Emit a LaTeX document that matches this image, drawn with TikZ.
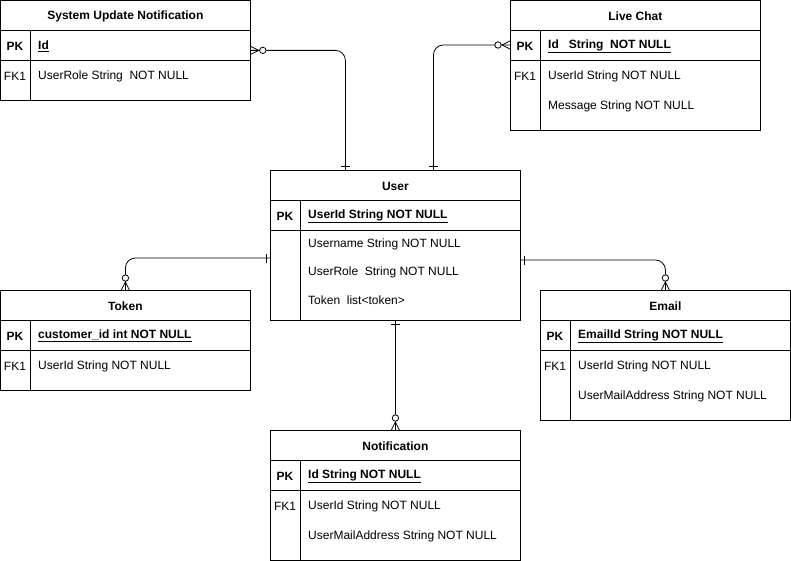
\documentclass[tikz,border=0pt]{standalone}
\usepackage{fontspec}
\setmainfont{Liberation Sans}
\usetikzlibrary{decorations.markings}

\newcommand{\erfont}{\fontsize{12}{14}\selectfont}

\tikzset{
  erbox/.style={draw, line width=0.8pt, anchor=north west, minimum width=250pt, inner sep=0pt},
  erline/.style={line width=0.8pt},
  ertitle/.style={font=\erfont\bfseries, anchor=center},
  erkey/.style={anchor=center, inner sep=0pt},
  erfield/.style={anchor=west, inner sep=0pt},
  erbold/.style={font=\erfont\bfseries},
  rel/.style={line width=0.8pt, rounded corners=10pt},
  zeromany/.style={postaction={decorate, decoration={markings, mark=at position 0 with {
      \draw[line width=0.8pt] (8pt,0pt) -- (0pt,4pt) (8pt,0pt) -- (0pt,-4pt);
      \draw[line width=0.8pt, fill=white] (12pt,0pt) circle (3.2pt);}}}},
  onebar/.style={postaction={decorate, decoration={markings, mark=at position 1 with {
      \draw[line width=0.8pt] (-4pt,-4.5pt) -- (-4pt,4.5pt);}}}}
}

% table frame: name, x, y, height, title
\newcommand{\erframe}[5]{%
  \node[erbox, minimum height=#4pt] (#1) at (#2,#3) {};
  \node[ertitle] (#1-t) at ([yshift=-16pt]#1.north) {#5};
  \draw[erline] ([yshift=-30pt]#1.north west) -- ([yshift=-30pt]#1.north east)
    ([yshift=-60pt]#1.north west) -- ([yshift=-60pt]#1.north east)
    ([shift={(30pt,-30pt)}]#1.north west) -- ([xshift=30pt]#1.south west);
}

\begin{document}
\begin{tikzpicture}[x=1pt, y=-1pt, font=\erfont]
  \useasboundingbox (0,0) rectangle (791,561);

  % tables
  \erframe{sun}{0}{0}{100}{System Update Notification}
  \erframe{chat}{510}{0}{130}{Live Chat}
  \erframe{user}{270}{170}{150}{User}
  \erframe{token}{0}{290}{100}{Token}
  \erframe{email}{540}{290}{130}{Email}
  \erframe{notif}{270}{430}{130}{Notification}

  % System Update Notification
  \node[erkey, erbold] (sun-pk) at ([shift={(15pt,-46pt)}]sun.north west) {PK};
  \node[erfield, erbold] (sun-id) at ([shift={(38pt,-46pt)}]sun.north west) {\underline{Id}};
  \node[erkey] (sun-fk) at ([shift={(15pt,-76pt)}]sun.north west) {FK1};
  \node[erfield] (sun-role) at ([shift={(38pt,-76pt)}]sun.north west) {UserRole String\ \ NOT NULL};

  % Live Chat
  \node[erkey, erbold] (chat-pk) at ([shift={(15pt,-46pt)}]chat.north west) {PK};
  \node[erfield, erbold] (chat-id) at ([shift={(38pt,-46pt)}]chat.north west) {\underline{Id\ \ \ String\ \ NOT NULL}};
  \node[erkey] (chat-fk) at ([shift={(15pt,-76pt)}]chat.north west) {FK1};
  \node[erfield] (chat-user) at ([shift={(38pt,-76pt)}]chat.north west) {UserId String NOT NULL};
  \node[erfield] (chat-msg) at ([shift={(38pt,-106pt)}]chat.north west) {Message String NOT NULL};

  % User
  \node[erkey, erbold] (user-pk) at ([shift={(15pt,-46pt)}]user.north west) {PK};
  \node[erfield, erbold] (user-id) at ([shift={(38pt,-46pt)}]user.north west) {\underline{UserId String NOT NULL}};
  \node[erfield] (user-name) at ([shift={(38pt,-74pt)}]user.north west) {Username String NOT NULL};
  \node[erfield] (user-role) at ([shift={(38pt,-102pt)}]user.north west) {UserRole\ \ String NOT NULL};
  \node[erfield] (user-token) at ([shift={(38pt,-130pt)}]user.north west) {Token\ \ list<token>};

  % Token
  \node[erkey, erbold] (token-pk) at ([shift={(15pt,-46pt)}]token.north west) {PK};
  \node[erfield, erbold] (token-id) at ([shift={(38pt,-46pt)}]token.north west) {\underline{customer\_id int NOT NULL}};
  \node[erkey] (token-fk) at ([shift={(15pt,-76pt)}]token.north west) {FK1};
  \node[erfield] (token-user) at ([shift={(38pt,-76pt)}]token.north west) {UserId String NOT NULL};

  % Email
  \node[erkey, erbold] (email-pk) at ([shift={(15pt,-46pt)}]email.north west) {PK};
  \node[erfield, erbold] (email-id) at ([shift={(38pt,-46pt)}]email.north west) {\underline{EmailId String NOT NULL}};
  \node[erkey] (email-fk) at ([shift={(15pt,-76pt)}]email.north west) {FK1};
  \node[erfield] (email-user) at ([shift={(38pt,-76pt)}]email.north west) {UserId String NOT NULL};
  \node[erfield] (email-addr) at ([shift={(38pt,-106pt)}]email.north west) {UserMailAddress String NOT NULL};

  % Notification
  \node[erkey, erbold] (notif-pk) at ([shift={(15pt,-46pt)}]notif.north west) {PK};
  \node[erfield, erbold] (notif-id) at ([shift={(38pt,-46pt)}]notif.north west) {\underline{Id String NOT NULL}};
  \node[erkey] (notif-fk) at ([shift={(15pt,-76pt)}]notif.north west) {FK1};
  \node[erfield] (notif-user) at ([shift={(38pt,-76pt)}]notif.north west) {UserId String NOT NULL};
  \node[erfield] (notif-addr) at ([shift={(38pt,-106pt)}]notif.north west) {UserMailAddress String NOT NULL};

  % relations
  \draw[rel, zeromany, onebar] (sun.east) -| ([xshift=-50pt]user.north);
  \draw[rel, zeromany, onebar] ([yshift=-45pt]chat.north west) -| ([xshift=38pt]user.north);
  \draw[rel, zeromany, onebar] (token.north) |- ([yshift=-88pt]user.north west);
  \draw[rel, zeromany, onebar] (email.north) |- ([yshift=-90pt]user.north east);
  \draw[rel, zeromany, onebar] (notif.north) -- (user.south);
\end{tikzpicture}
\end{document}
